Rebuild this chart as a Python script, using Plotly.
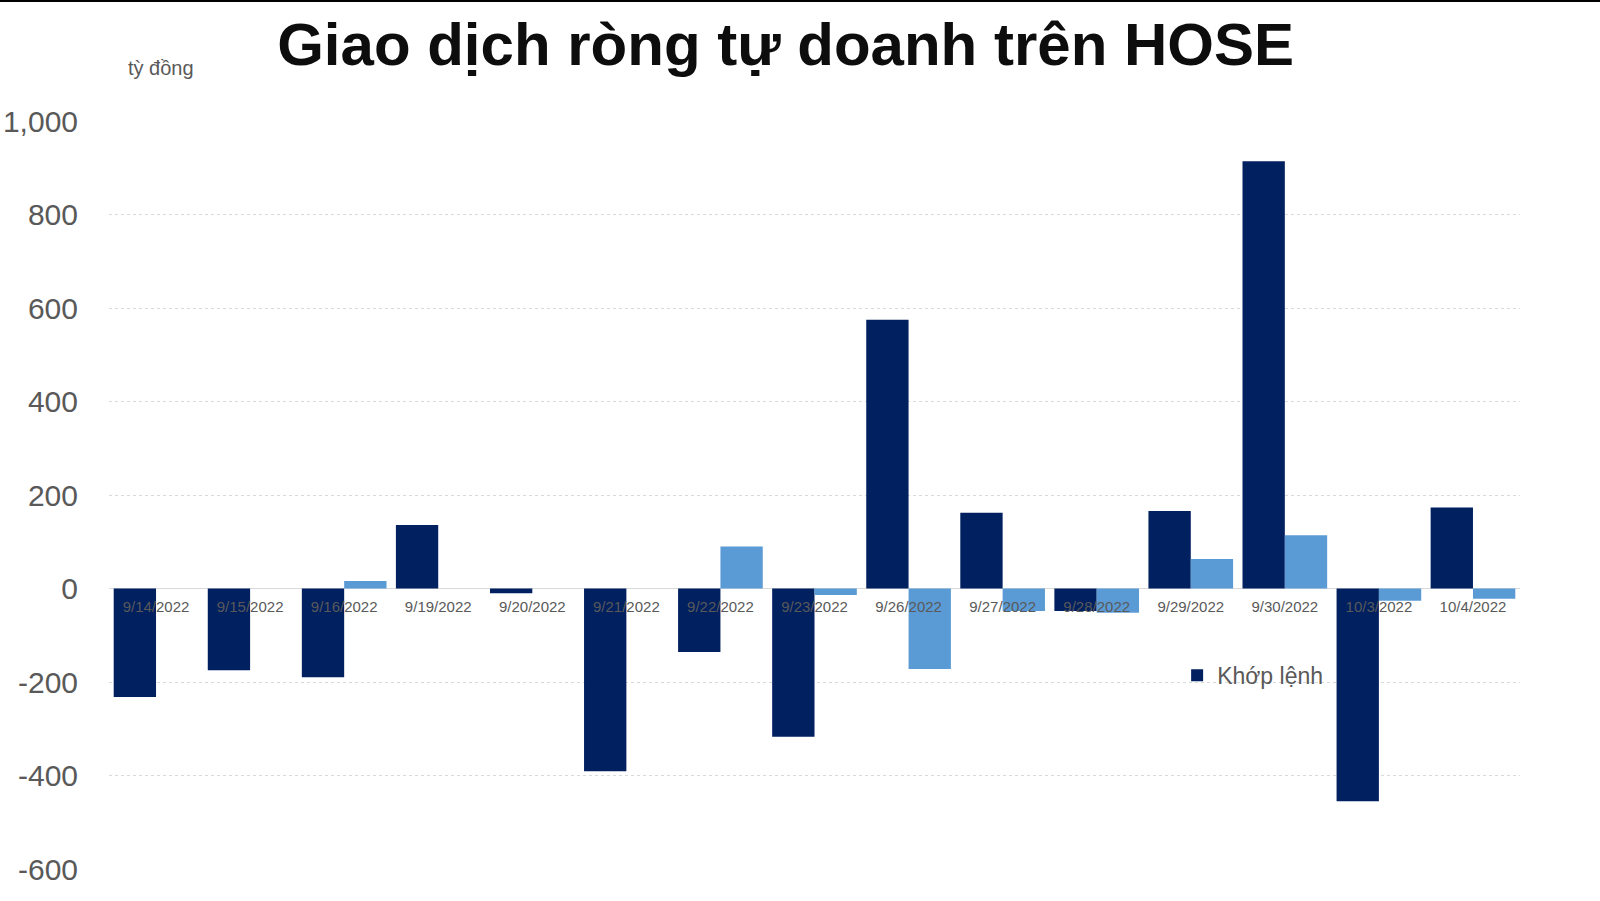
import plotly.graph_objects as go

# data (tỷ đồng)
dates = ["9/14/2022", "9/15/2022", "9/16/2022", "9/19/2022", "9/20/2022",
         "9/21/2022", "9/22/2022", "9/23/2022", "9/26/2022", "9/27/2022",
         "9/28/2022", "9/29/2022", "9/30/2022", "10/3/2022", "10/4/2022"]
khop_lenh = [-232, -175, -190, 136, -10, -391, -136, -317, 575, 162,
             -48, 166, 914, -455, 173]
thoa_thuan = [0, 0, 16, 0, 0, 0, 90, -14, -172, -48, -52, 63, 114, -26, -22]

y_ticks = [1000, 800, 600, 400, 200, 0, -200, -400, -600]
y_tick_text = ["1,000", "800", "600", "400", "200", "0", "-200", "-400", "-600"]

DARK = "#002060"
LIGHT = "#5B9BD5"
GREY = "#595959"
FONT = "Liberation Sans"

fig = go.Figure()
fig.add_trace(go.Bar(x=dates, y=khop_lenh, name="Khớp lệnh",
                     marker=dict(color=DARK, line=dict(width=0))))
fig.add_trace(go.Bar(x=dates, y=thoa_thuan, name="Thỏa thuận",
                     marker=dict(color=LIGHT, line=dict(width=0)),
                     showlegend=False))

fig.update_layout(
    width=1600, height=901,
    margin=dict(l=109, r=80, t=121, b=32),
    paper_bgcolor="white", plot_bgcolor="white",
    barmode="group", bargap=0.1, bargroupgap=0,
    font=dict(family=FONT, color=GREY),
    title=dict(text="<b>Giao dịch ròng tự doanh trên HOSE</b>",
               x=0.491, xanchor="center", y=0.951, yanchor="middle",
               font=dict(family=FONT, size=60, color="#0d0d0d")),
    xaxis=dict(
        type="category", anchor="free", position=0.375, automargin=False,
        showgrid=False, showline=False, zeroline=False,
        ticks="outside", ticklen=4, tickcolor="rgba(0,0,0,0)",
        tickfont=dict(size=15, color=GREY),
        tickangle=0,
    ),
    yaxis=dict(
        range=[-600, 1000], tickvals=y_ticks, ticktext=y_tick_text,
        automargin=False,
        showgrid=True, gridcolor="#d9d9d9", griddash="dot", gridwidth=1,
        zeroline=True, zerolinecolor="#d9d9d9", zerolinewidth=1,
        showline=False, ticks="outside", ticklen=24,
        tickcolor="rgba(0,0,0,0)",
        tickfont=dict(size=30, color=GREY),
    ),
    legend=dict(x=0.757, y=0.259, xanchor="left", yanchor="middle",
                bgcolor="rgba(0,0,0,0)",
                font=dict(size=23, color=GREY)),
    annotations=[dict(text="tỳ đồng", xref="paper", yref="paper",
                      x=(161 - 109) / 1411, y=1 + (121 - 68) / 748,
                      xanchor="center", yanchor="middle", showarrow=False,
                      font=dict(size=20, color=GREY))],
    shapes=[dict(type="line", xref="paper", yref="paper",
                 x0=-109 / 1411, x1=1 + 80 / 1411,
                 y0=1 + 120 / 748, y1=1 + 120 / 748,
                 line=dict(color="black", width=2))],
)

# drop the default page margin so the figure sits at the window corner
fig.write_html("out.html", config={"displayModeBar": False},
               post_script="document.body.style.margin='0';")
